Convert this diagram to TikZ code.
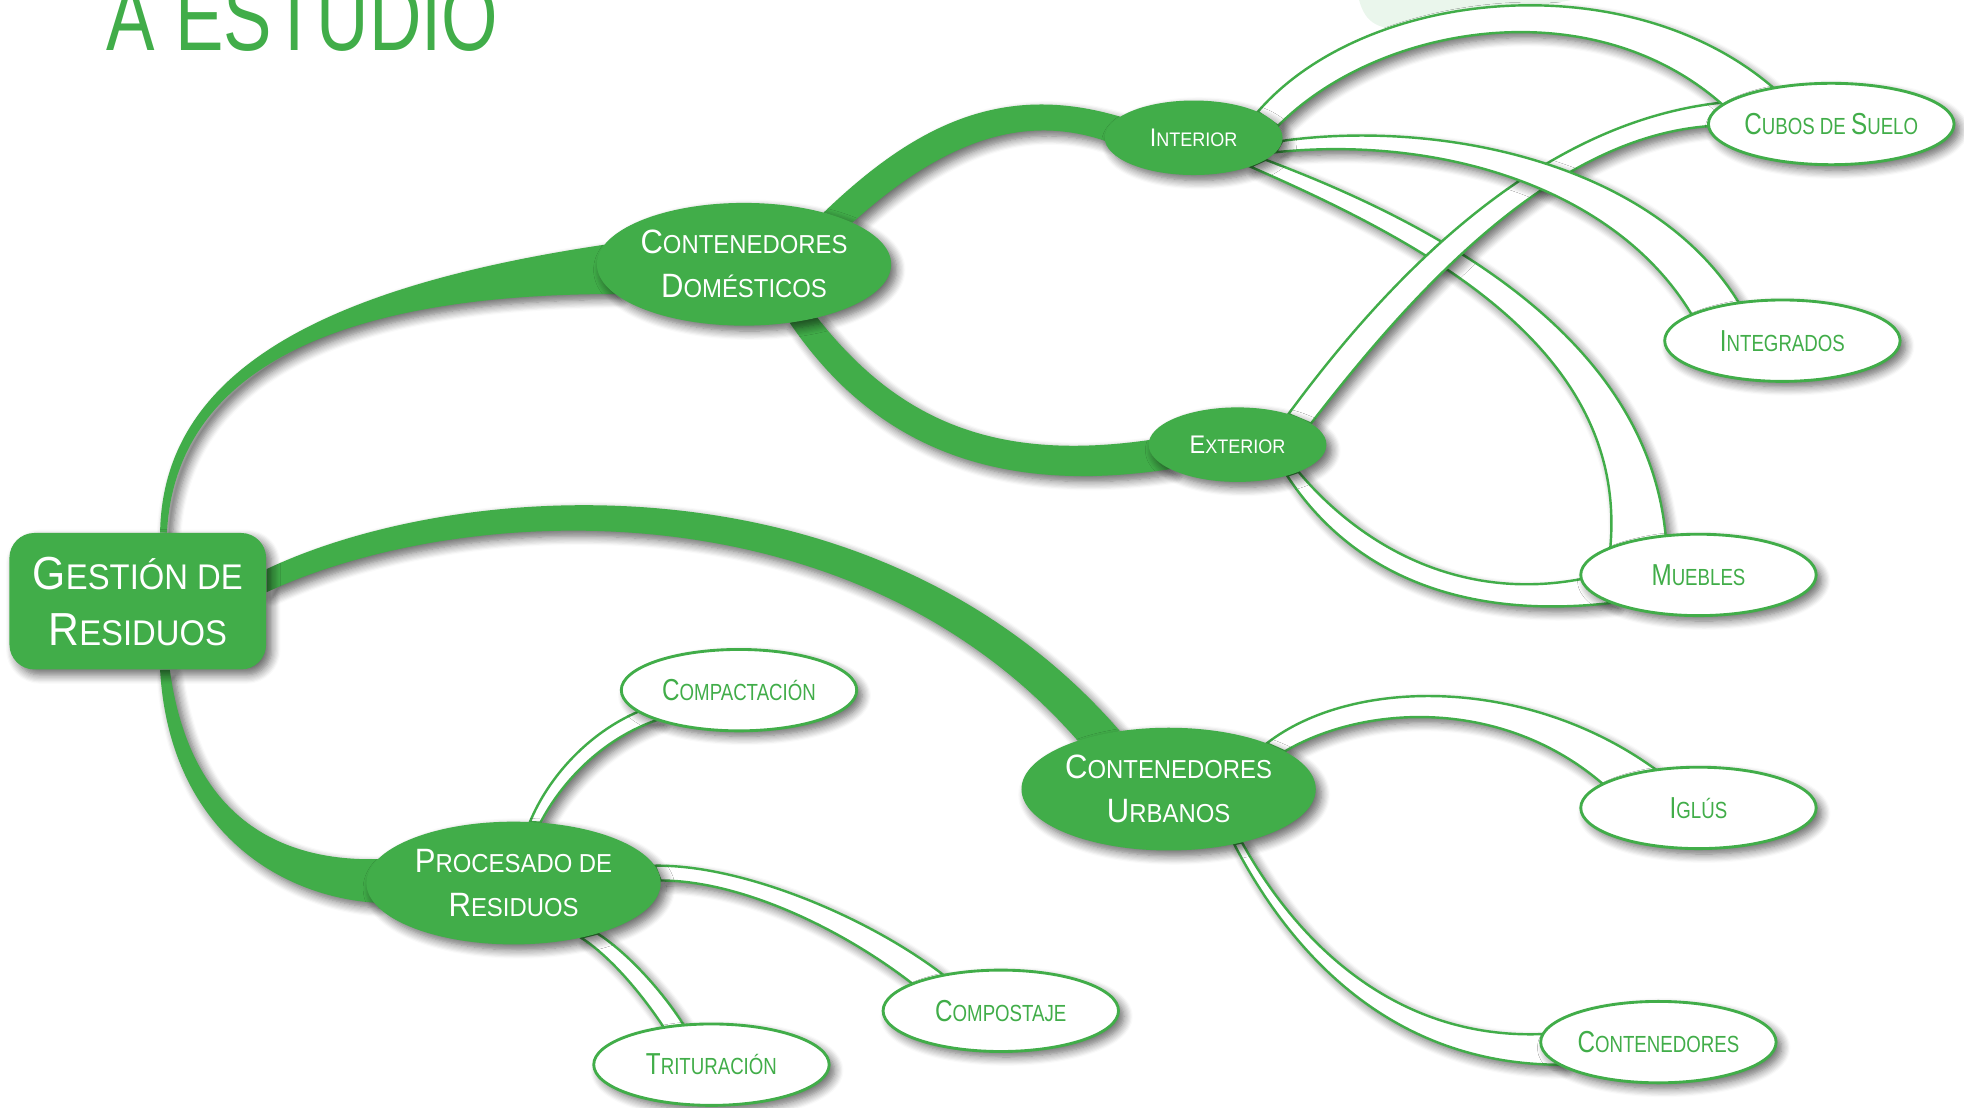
\documentclass[tikz,border=0pt]{standalone}
\usepackage{fontspec}
\usepackage{graphicx}
\setmainfont{Liberation Sans}[FakeStretch=0.92]
\newfontfamily\hojafont{Liberation Sans}[FakeStretch=0.8]
\newfontfamily\titulofont{Liberation Sans}[FakeStretch=0.75]
\usetikzlibrary{shapes.geometric,backgrounds,shadows.blur}
\definecolor{verde}{HTML}{41AD49}
\definecolor{verdeclaro}{HTML}{EAF6EC}
\newcommand{\Ini}[1]{\scalebox{1.3}{#1}}

\tikzset{
    sombra/.style={blur shadow={shadow xshift=2.5pt, shadow yshift=-2.5pt, shadow blur radius=4pt, shadow blur steps=8, shadow opacity=60}},
    raiz/.style={rectangle, rounded corners=0.4cm, fill=verde, text=white, minimum width=4.1cm, minimum height=2.18cm, align=center, font=\fontsize{16.2}{25.6}\selectfont, sombra},
    rama/.style={ellipse, fill=verde, text=white, inner sep=0pt, outer sep=0pt, minimum width=4.7cm, minimum height=1.96cm, align=center, font=\fontsize{11.8}{20}\selectfont, sombra},
    sub/.style={ellipse, fill=verde, text=white, inner sep=0pt, outer sep=0pt, minimum width=2.84cm, minimum height=1.19cm, font=\fontsize{8.9}{11}\selectfont, sombra},
    hoja/.style={ellipse, draw=verde, line width=1.3pt, fill=white, text=verde, inner sep=0pt, outer sep=0pt, minimum width=3.76cm, minimum height=1.3cm, font=\hojafont\fontsize{10.6}{12}\selectfont, sombra},
    grueso/.style={fill=verde, sombra},
    doble/.style={fill=white, draw=verde, line width=1.1pt, sombra}
}

\begin{document}
\begin{tikzpicture}[x=0.02cm, y=-0.02cm]
    \useasboundingbox (0,0) rectangle (1568,884);

    % titulo cortado arriba
    \node[anchor=base west, inner sep=0pt, text=verde, font=\titulofont\fontsize{44}{44}\selectfont] (titulo) at (85,40) {A ESTUDIO};

    % nodos
    \node[raiz] (gest) at (110,480) {\Ini{G}ESTIÓN DE\\\Ini{R}ESIDUOS};
    \node[rama] (dom) at (594,211) {\Ini{C}ONTENEDORES\\\Ini{D}OMÉSTICOS};
    \node[rama] (urb) at (933,630) {\Ini{C}ONTENEDORES\\\Ini{U}RBANOS};
    \node[rama] (proc) at (410,705) {\Ini{P}ROCESADO DE\\\Ini{R}ESIDUOS};
    \node[sub] (int) at (953,110) {\Ini{I}NTERIOR};
    \node[sub] (ext) at (988,355) {\Ini{E}XTERIOR};

    \node[hoja] (cubos) at (1462,99) {\Ini{C}UBOS DE \Ini{S}UELO};
    \node[hoja] (integ) at (1423,272) {\Ini{I}NTEGRADOS};
    \node[hoja] (mueb) at (1356,459) {\Ini{M}UEBLES};
    \node[hoja] (igl) at (1356,645) {\Ini{I}GLÚS};
    \node[hoja] (cont) at (1324,832) {\Ini{C}ONTENEDORES};
    \node[hoja] (comp) at (590,551) {\Ini{C}OMPACTACIÓN};
    \node[hoja] (compo) at (799,807) {\Ini{C}OMPOSTAJE};
    \node[hoja] (trit) at (568,850) {\Ini{T}RITURACIÓN};

    \begin{scope}[on background layer]
        \fill[verdeclaro] (1085,0) .. controls (1090,18) and (1100,26) .. (1130,22) -- (1255,0) -- cycle;

        % ramas gruesas
        \path[grueso] (gest.72) .. controls (130,300) and (250,230) .. (dom.172) -- (dom.193) .. controls (260,235) and (140,300) .. (gest.67) -- cycle;
        \path[grueso] (gest.-72) .. controls (135,660) and (220,715) .. (proc.188) -- (proc.170) .. controls (210,688) and (150,640) .. (gest.-65) -- cycle;
        \path[grueso] (gest.14) .. controls (370,380) and (700,360) .. (urb.130) -- (urb.152) .. controls (680,385) and (370,400) .. (gest.4) -- cycle;
        \path[grueso] (dom.33) .. controls (730,100) and (800,65) .. (int.164) -- (int.182) .. controls (810,88) and (745,120) .. (dom.21) -- cycle;
        \path[grueso] (dom.-36) .. controls (720,340) and (800,368) .. (ext.177) -- (ext.200) .. controls (800,395) and (700,360) .. (dom.-52) -- cycle;

        % ramas dobles
        \path[doble] (int.-17) .. controls (1150,180) and (1315,270) .. (mueb.130) -- (mueb.163) .. controls (1300,280) and (1140,195) .. (int.-27) -- cycle;
        \path[doble] (ext.31) .. controls (1110,220) and (1230,95) .. (cubos.168) -- (cubos.181) .. controls (1240,110) and (1130,230) .. (ext.16) -- cycle;
        \path[doble] (int.-2) .. controls (1150,95) and (1320,130) .. (integ.139) -- (integ.164) .. controls (1290,150) and (1150,108) .. (int.-10) -- cycle;
        \path[doble] (int.22) .. controls (1090,-10) and (1300,-30) .. (cubos.148) -- (cubos.170) .. controls (1270,-10) and (1100,20) .. (int.8) -- cycle;
        \path[doble] (ext.-32) .. controls (1080,460) and (1170,495) .. (mueb.198) -- (mueb.182) .. controls (1170,480) and (1090,440) .. (ext.-24) -- cycle;
        \path[doble] (urb.25) .. controls (1080,540) and (1220,540) .. (igl.138) -- (igl.166) .. controls (1200,557) and (1090,562) .. (urb.18) -- cycle;
        \path[doble] (urb.-40) .. controls (1030,760) and (1110,850) .. (cont.193) -- (cont.176) .. controls (1120,830) and (1040,760) .. (urb.-36) -- cycle;
        \path[doble] (proc.75) .. controls (438,620) and (470,585) .. (comp.192) -- (comp.200) .. controls (480,590) and (448,625) .. (proc.66) -- cycle;
        \path[doble] (proc.7) .. controls (590,690) and (690,730) .. (compo.148) -- (compo.163) .. controls (670,740) and (590,703) .. (proc.1) -- cycle;
        \path[doble] (proc.-39) .. controls (485,762) and (510,790) .. (trit.142) -- (trit.125) .. controls (528,790) and (500,760) .. (proc.-31) -- cycle;
    \end{scope}
\end{tikzpicture}
\end{document}
